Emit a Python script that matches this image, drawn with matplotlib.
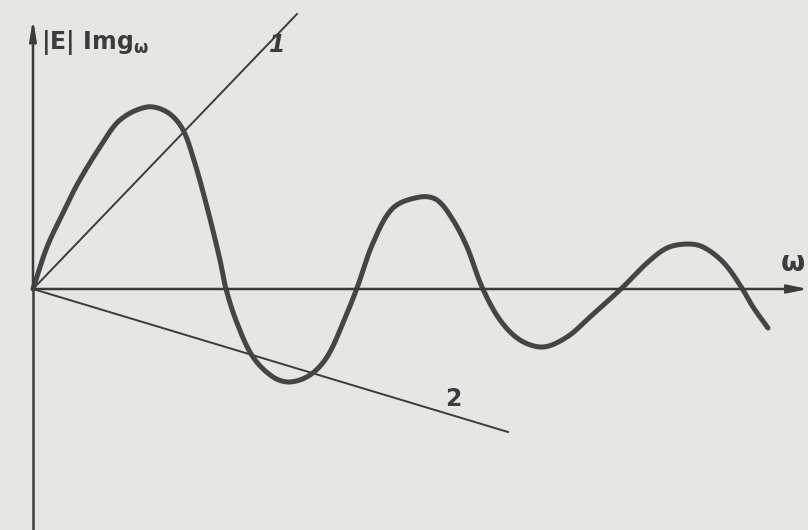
import matplotlib
matplotlib.use("Agg")
import matplotlib.pyplot as plt
import numpy as np

# curve |E| Im g_w versus omega (arbitrary units, origin at axes intersection)
curve_x = [0, 14, 30, 45, 67, 87, 114, 134, 149, 160, 174, 187, 193, 204, 220, 240, 257, 277,
           294, 310, 324, 340, 360, 387, 404, 420, 434, 449, 467, 487, 510, 534,
           557, 590, 614, 634, 654, 670, 690, 707, 720, 735]
curve_y = [0, 42, 76, 106, 142, 169, 182, 177, 161, 132, 82, 29, 0, -34, -68, -88, -93, -86,
           -68, -34, 1, 46, 81, 92, 89, 69, 42, 2, -31, -51, -58, -48,
           -28, 2, 26, 41, 45, 42, 27, 4, -18, -39]
line1_end = (264, 275)
line2_end = (475, -143)
xlim = (-33, 775)
ylim = (-241, 289)

fg = "#3c3c3c"
bg = "#e6e6e3"

fig = plt.figure(figsize=(8.08, 5.30), dpi=100)
fig.patch.set_facecolor(bg)
ax = fig.add_axes([0, 0, 1, 1])
ax.set_facecolor(bg)
ax.set_xlim(*xlim)
ax.set_ylim(*ylim)
ax.axis("off")

# axes with arrows
ax.annotate("", xy=(775, 0), xytext=(0, 0),
            arrowprops=dict(arrowstyle="-|>,head_length=1.2,head_width=0.25", color=fg, lw=1.8,
                            shrinkA=0, shrinkB=0))
ax.plot([0, 0], [-241, 0], color=fg, lw=1.8, solid_capstyle="butt")
ax.annotate("", xy=(0, 270), xytext=(0, 0),
            arrowprops=dict(arrowstyle="-|>,head_length=1.2,head_width=0.2", color=fg, lw=1.8,
                            shrinkA=0, shrinkB=0))

# straight lines 1 and 2
ax.plot([0, line1_end[0]], [0, line1_end[1]], color=fg, lw=1.4)
ax.plot([0, line2_end[0]], [0, line2_end[1]], color=fg, lw=1.4)

# oscillating curve: smooth Hermite interpolation through the read points
cx = np.array(curve_x, float)
cy = np.array(curve_y, float)
t = np.concatenate([[0], np.cumsum(np.hypot(np.diff(cx), np.diff(cy)))])

def tangents(tv, v):
    m = np.empty_like(v)
    m[1:-1] = (v[2:] - v[:-2]) / (tv[2:] - tv[:-2])
    m[0] = (v[1] - v[0]) / (tv[1] - tv[0])
    m[-1] = (v[-1] - v[-2]) / (tv[-1] - tv[-2])
    return m

def hermite(tv, v, ts):
    m = tangents(tv, v)
    i = np.clip(np.searchsorted(tv, ts, side="right") - 1, 0, len(tv) - 2)
    h = tv[i + 1] - tv[i]
    u = (ts - tv[i]) / h
    h00 = 2 * u**3 - 3 * u**2 + 1
    h10 = u**3 - 2 * u**2 + u
    h01 = -2 * u**3 + 3 * u**2
    h11 = u**3 - u**2
    return h00 * v[i] + h10 * h * m[i] + h01 * v[i + 1] + h11 * h * m[i + 1]

ts = np.linspace(0, t[-1], 3000)
ax.plot(hermite(t, cx, ts), hermite(t, cy, ts), color="#454545", lw=3.6,
        solid_capstyle="round")

# labels
ax.text(8, 232, "|E| Img$_{\\mathregular{\\omega}}$", fontsize=17, color=fg, fontweight="bold",
        family="DejaVu Sans", va="bottom", ha="left")
ax.text(244, 232, "1", fontsize=17, color=fg, fontweight="bold", fontstyle="italic",
        ha="center", va="bottom")
ax.text(420, -122, "2", fontsize=17, color=fg, fontweight="bold",
        ha="center", va="bottom")
ax.text(772, 12, "ω", fontsize=20, color=fg, fontweight="bold",
        ha="right", va="bottom")

fig.savefig("out.png", dpi=100, facecolor=bg)
